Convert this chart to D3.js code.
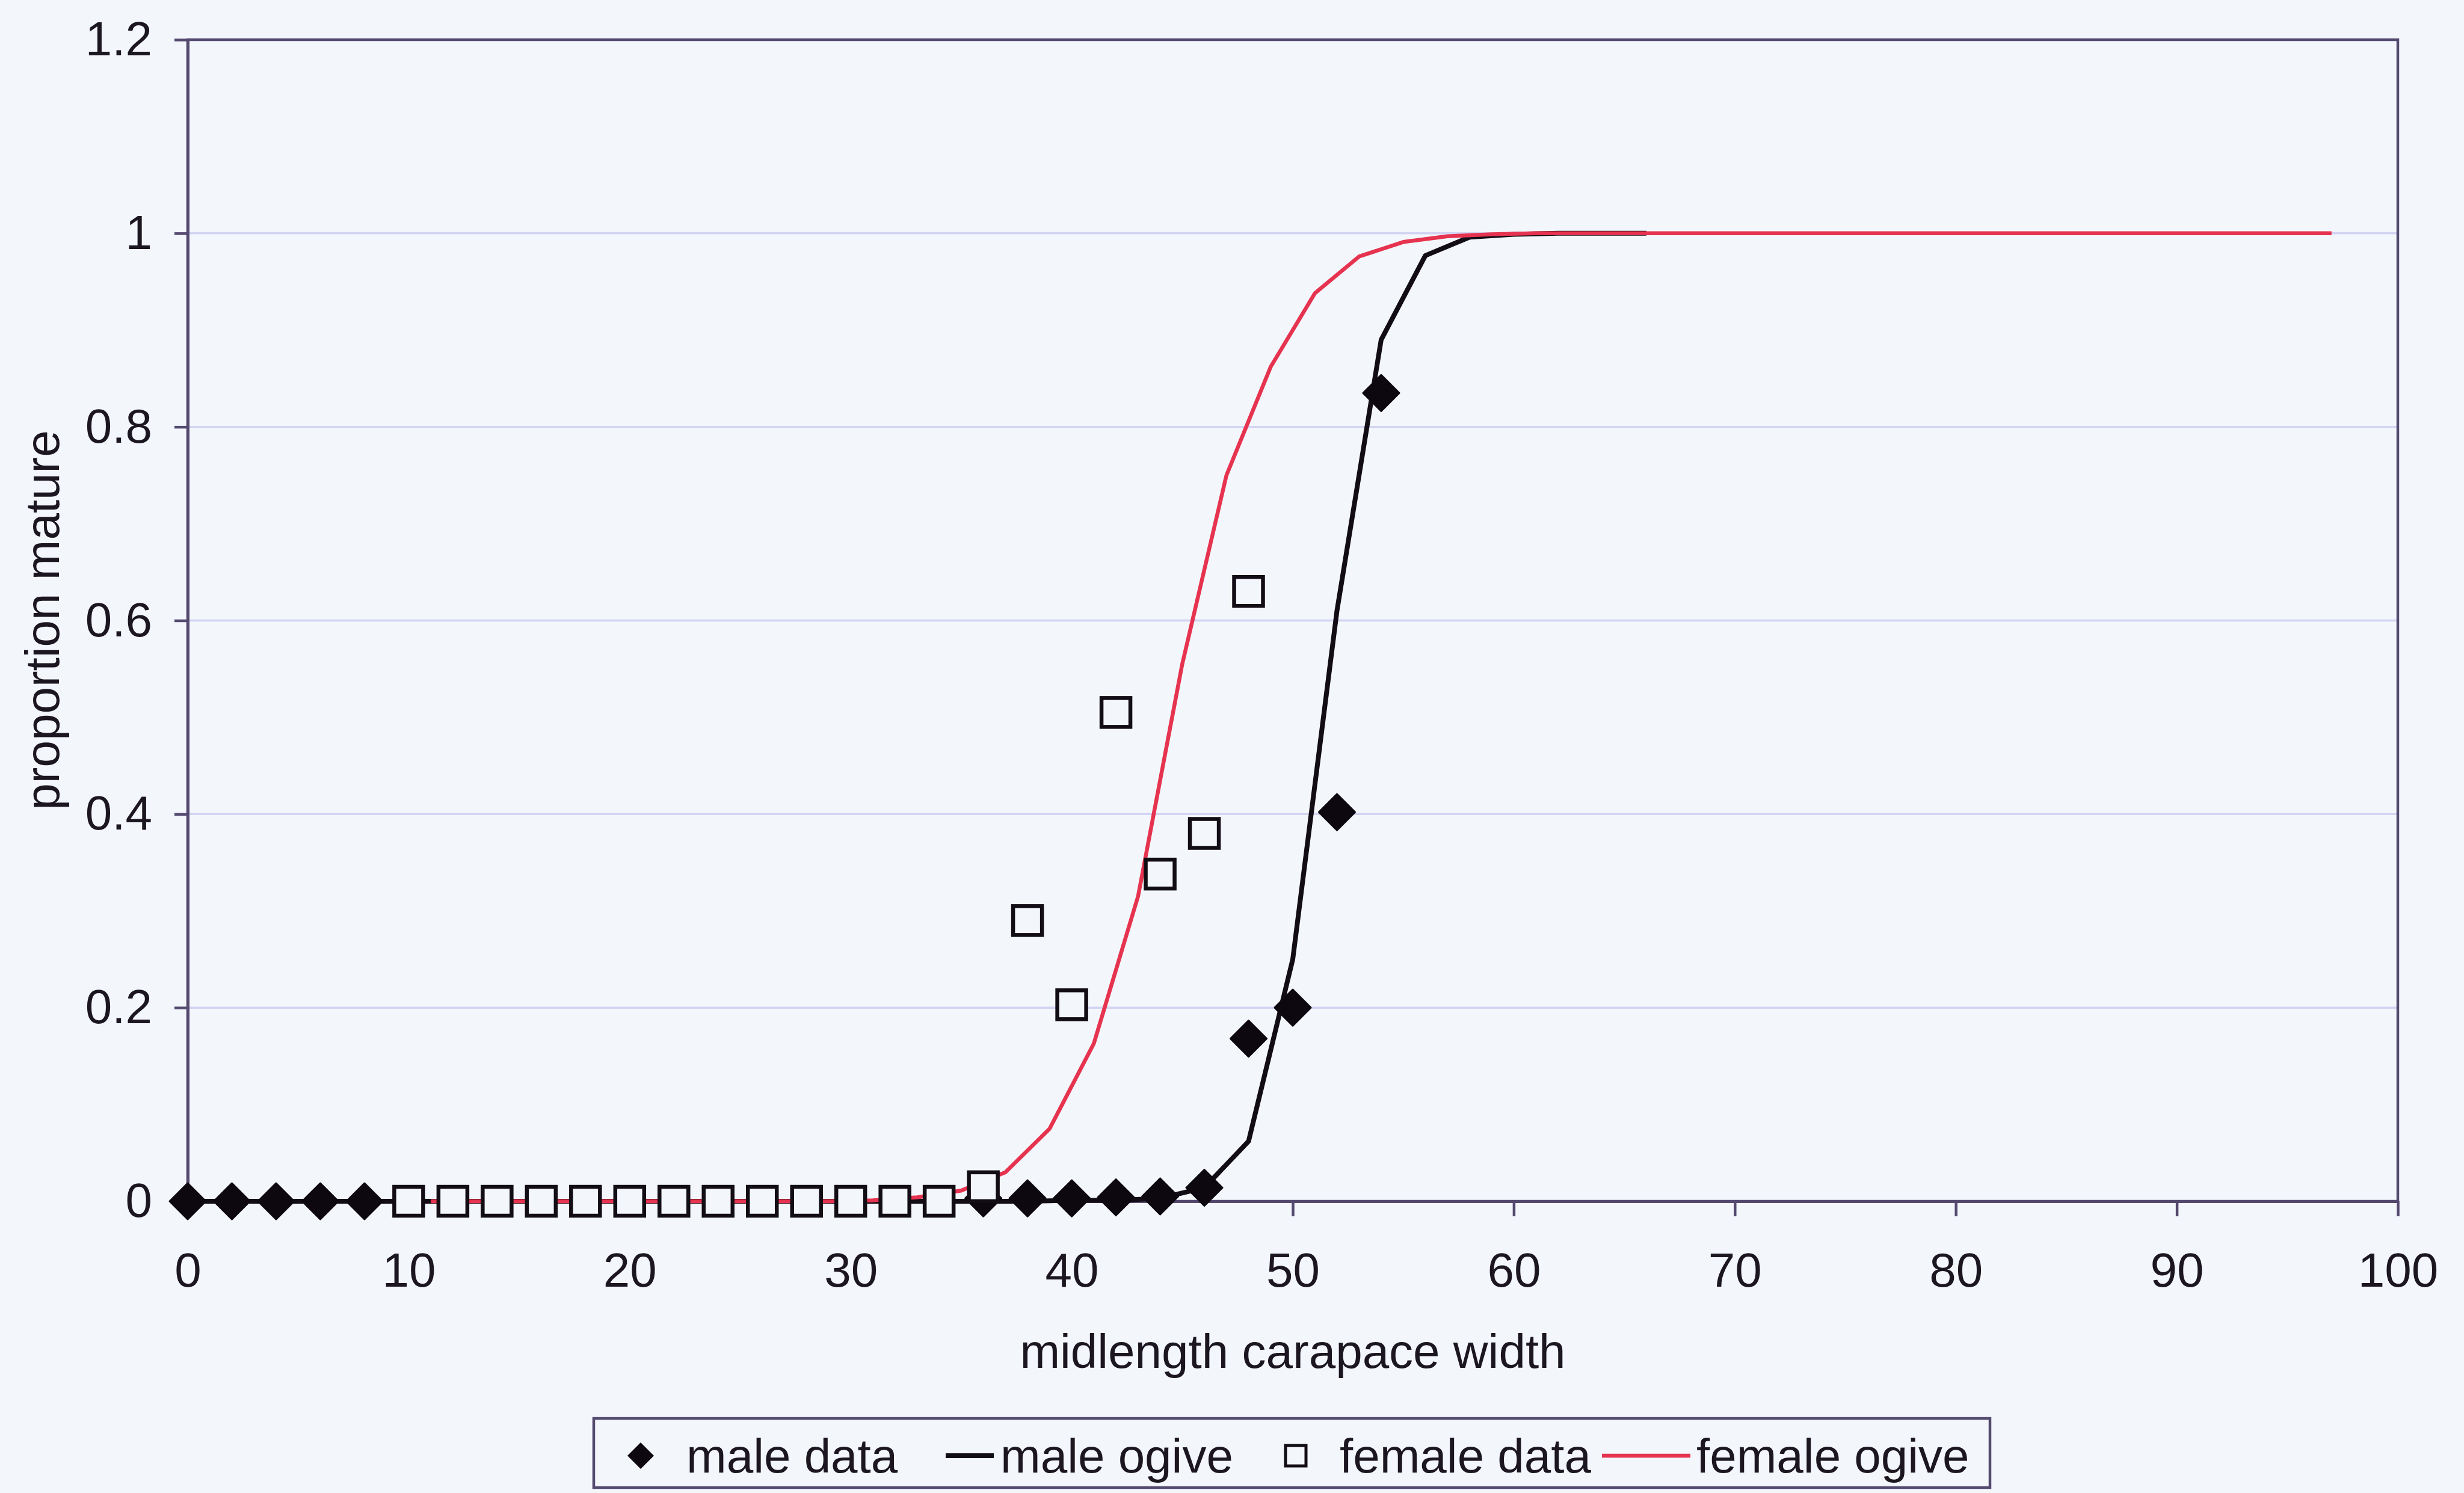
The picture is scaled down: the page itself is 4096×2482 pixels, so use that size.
<!DOCTYPE html>
<html>
<head>
<meta charset="utf-8">
<script src="https://cdn.jsdelivr.net/npm/d3@7"></script>
<style>
  html, body { margin: 0; padding: 0; background: #f3f7fc; }
  svg { display: block; }
  text { font-family: "Liberation Sans", Arial, Helvetica, sans-serif; fill: #1c1620; }
</style>
</head>
<body>
<svg id="chart" width="4096" height="2482"></svg>
<script>
// Maturity ogives by midlength carapace width
const maleDataX = [0, 2, 4, 6, 8, 36, 38, 40, 42, 44, 46, 48, 50, 52, 54];
const maleDataY = [0, 0, 0, 0, 0, 0.003, 0.003, 0.003, 0.004, 0.005, 0.014, 0.168, 0.2, 0.402, 0.835];

const femaleDataX = [10, 12, 14, 16, 18, 20, 22, 24, 26, 28, 30, 32, 34, 36, 38, 40, 42, 44, 46, 48];
const femaleDataY = [0, 0, 0, 0, 0, 0, 0, 0, 0, 0, 0, 0, 0, 0.015, 0.29, 0.203, 0.505, 0.338, 0.38, 0.63];

const maleOgiveX = [0, 2, 4, 6, 8, 10, 12, 14, 16, 18, 20, 22, 24, 26, 28, 30, 32, 34,
                    36, 38, 40, 42, 44, 46, 48, 50, 52, 54, 56, 58, 60, 62, 64, 66];
const maleOgiveY = [0, 0, 0, 0, 0, 0, 0, 0, 0, 0, 0, 0, 0, 0, 0, 0, 0, 0,
                    0, 0, 0.001, 0.001, 0.003, 0.014, 0.062, 0.25, 0.61, 0.89, 0.977, 0.996, 0.999, 1, 1, 1];

const femaleOgiveX = [11, 13, 15, 17, 19, 21, 23, 25, 27, 29, 31, 33, 35, 37, 39, 41, 43, 45, 47, 49, 51,
                      53, 55, 57, 59, 61, 63, 65, 67, 69, 71, 73, 75, 77, 79, 81, 83, 85, 87, 89, 91, 93, 95, 97];
const femaleOgiveY = [0, 0, 0, 0, 0, 0, 0, 0, 0, 0, 0.001, 0.004, 0.011, 0.03, 0.075, 0.163, 0.315, 0.555, 0.75, 0.862, 0.938,
                      0.976, 0.991, 0.997, 0.999, 1, 1, 1, 1, 1, 1, 1, 1, 1, 1, 1, 1, 1, 1, 1, 1, 1, 1, 1];

const xTicks = [0, 10, 20, 30, 40, 50, 60, 70, 80, 90, 100];
const yTicks = [0, 0.2, 0.4, 0.6, 0.8, 1, 1.2];

const legendItems = ["male data", "male ogive", "female data", "female ogive"];

const axisColor = "#54496f";
const gridColor = "#d3d3f2";
const redColor = "#e6334f";
const inkColor = "#120c14";
const bg = "#f3f7fc";

const svg = d3.select("#chart");
const plotL = 312, plotR = 3986, plotT = 66, plotB = 1997;

const x = d3.scaleLinear().domain([0, 100]).range([plotL, plotR]);
const y = d3.scaleLinear().domain([0, 1.2]).range([plotB, plotT]);

svg.append("rect").attr("width", 4096).attr("height", 2482).attr("fill", bg);

// horizontal gridlines
svg.append("g").selectAll("line")
  .data(yTicks.filter(v => v > 0 && v < 1.2))
  .join("line")
  .attr("x1", plotL).attr("x2", plotR)
  .attr("y1", d => y(d)).attr("y2", d => y(d))
  .attr("stroke", gridColor).attr("stroke-width", 3.5);

// plot-area border
svg.append("rect")
  .attr("x", plotL).attr("y", plotT)
  .attr("width", plotR - plotL).attr("height", plotB - plotT)
  .attr("fill", "none").attr("stroke", axisColor).attr("stroke-width", 4.5);

// axes
const fmt = d => String(+d.toFixed(1));
const gx = svg.append("g").attr("transform", `translate(0,${plotB})`)
  .call(d3.axisBottom(x).tickValues(xTicks).tickFormat(fmt).tickSizeInner(25).tickSizeOuter(0).tickPadding(60));
const gy = svg.append("g").attr("transform", `translate(${plotL},0)`)
  .call(d3.axisLeft(y).tickValues(yTicks).tickFormat(fmt).tickSizeInner(22).tickSizeOuter(0).tickPadding(37));
[gx, gy].forEach(g => {
  g.select(".domain").attr("stroke", axisColor).attr("stroke-width", 5);
  g.selectAll(".tick line").attr("stroke", axisColor).attr("stroke-width", 4.5);
  g.selectAll(".tick text").attr("font-size", 80).attr("fill", "#1c1620")
    .style("font-family", '"Liberation Sans", Arial, sans-serif');
});

// axis titles
svg.append("text")
  .attr("x", (plotL + plotR) / 2).attr("y", 2246).attr("dy", "0.35em")
  .attr("text-anchor", "middle").attr("font-size", 80)
  .text("midlength carapace width");
svg.append("text")
  .attr("transform", "translate(70,1031) rotate(-90)")
  .attr("dy", "0.35em")
  .attr("text-anchor", "middle").attr("font-size", 80)
  .text("proportion mature");

// ogive lines
const line = d3.line().x(d => x(d[0])).y(d => y(d[1]));
svg.append("path")
  .datum(d3.zip(maleOgiveX, maleOgiveY))
  .attr("d", line).attr("fill", "none")
  .attr("stroke", inkColor).attr("stroke-width", 8).attr("stroke-linejoin", "round");
svg.append("path")
  .datum(d3.zip(femaleOgiveX, femaleOgiveY))
  .attr("d", line).attr("fill", "none")
  .attr("stroke", redColor).attr("stroke-width", 6.5).attr("stroke-linejoin", "round");

// markers
const diamond = r => `M0,${-r}L${r},0L0,${r}L${-r},0Z`;
svg.append("g").selectAll("path")
  .data(d3.zip(maleDataX, maleDataY))
  .join("path")
  .attr("transform", d => `translate(${x(d[0])},${y(d[1])})`)
  .attr("d", diamond(30))
  .attr("fill", "#0d080f")
  .attr("stroke", "#0d080f").attr("stroke-width", 3).attr("stroke-linejoin", "round");
const sq = 48;
svg.append("g").selectAll("rect")
  .data(d3.zip(femaleDataX, femaleDataY))
  .join("rect")
  .attr("x", d => x(d[0]) - sq / 2).attr("y", d => y(d[1]) - sq / 2)
  .attr("width", sq).attr("height", sq)
  .attr("fill", bg).attr("stroke", inkColor).attr("stroke-width", 6.5);

// legend
const lg = svg.append("g");
lg.append("rect")
  .attr("x", 987).attr("y", 2358).attr("width", 3308 - 987).attr("height", 2473 - 2358)
  .attr("fill", bg).attr("stroke", axisColor).attr("stroke-width", 4.5);
const ly = 2420;
lg.append("path").attr("transform", `translate(1065,${ly})`).attr("d", diamond(22)).attr("fill", "#0d080f");
lg.append("line").attr("x1", 1572).attr("x2", 1652).attr("y1", ly).attr("y2", ly)
  .attr("stroke", inkColor).attr("stroke-width", 8);
lg.append("rect").attr("x", 2154 - 17).attr("y", ly - 17).attr("width", 34).attr("height", 34)
  .attr("fill", bg).attr("stroke", inkColor).attr("stroke-width", 5);
lg.append("line").attr("x1", 2663).attr("x2", 2810).attr("y1", ly).attr("y2", ly)
  .attr("stroke", redColor).attr("stroke-width", 6.5);
const textX = [1141, 1663, 2227, 2820];
lg.selectAll("text.item")
  .data(legendItems)
  .join("text")
  .attr("class", "item")
  .attr("x", (d, i) => textX[i]).attr("y", ly).attr("dy", "0.35em")
  .attr("font-size", 80)
  .text(d => d);
</script>
</body>
</html>
